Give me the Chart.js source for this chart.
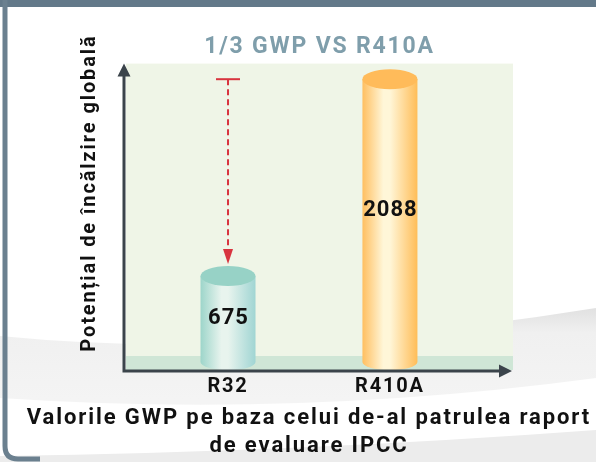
<!DOCTYPE html>
<html lang="ro">
<head>
    <meta charset="UTF-8">
    <title>GWP R32 vs R410A</title>
    <script src="https://cdn.jsdelivr.net/npm/chart.js"></script>
    <style>
        html, body { margin: 0; padding: 0; background: #fff; }
        #gwpChart { display: block; }
    </style>
</head>
<body>
    <canvas id="gwpChart" width="596" height="462"></canvas>

    <script>
        // chart data
        const categories = ['R32', 'R410A'];
        const gwpValues = [675, 2088];
        const yMax = 2200;
        const chartTitle = '1/3 GWP VS R410A';
        const yAxisLabel = 'Potențial de încălzire globală';
        const captionLines = ['Valorile GWP pe baza celui de-al patrulea raport', 'de evaluare IPCC'];

        // cylinder colours: [edge, highlight, other edge, cap]
        const cylinderColors = [
            ['#9dd5ca', '#e8f4ee', '#a0d5d3', '#97d2c6'],
            ['#ffbf60', '#fff6d8', '#ffbd58', '#ffbb5a']
        ];
        const FONT = 'Roboto, "Noto Sans", sans-serif';

        // white card, grey swoosh and slate frame
        const framePlugin = {
            id: 'frame',
            beforeDraw(chart) {
                const { ctx, width, height } = chart;
                // wide DIN-like lettering for title and tick labels
                ctx.letterSpacing = '1.8px';
                ctx.save();
                ctx.fillStyle = '#fff';
                ctx.fillRect(0, 0, width, height);

                const g = ctx.createLinearGradient(0, 310, 0, 400);
                g.addColorStop(0, '#e2e2e2');
                g.addColorStop(0.25, '#f0f0f0');
                g.addColorStop(1, '#f4f4f4');
                ctx.fillStyle = g;
                ctx.beginPath();
                ctx.moveTo(0, 336);
                ctx.quadraticCurveTo(260, 362, width, 308);
                ctx.lineTo(width, 378);
                ctx.quadraticCurveTo(300, 418, 0, 398);
                ctx.closePath();
                ctx.fill();

                ctx.fillStyle = '#ececec';
                ctx.beginPath();
                ctx.moveTo(0, 456);
                ctx.quadraticCurveTo(300, 452, width, 430);
                ctx.lineTo(width, height);
                ctx.lineTo(0, height);
                ctx.closePath();
                ctx.fill();

                ctx.fillStyle = '#637989';
                ctx.fillRect(0, 0, width, 7);
                ctx.strokeStyle = '#6b808f';
                ctx.lineWidth = 5;
                ctx.beginPath();
                ctx.moveTo(5, 0);
                ctx.lineTo(5, height - 16);
                ctx.quadraticCurveTo(5, height - 3, 18, height - 3);
                ctx.lineTo(40, height - 3);
                ctx.stroke();
                ctx.restore();
            }
        };

        // green panel with the floor band
        const panelPlugin = {
            id: 'panel',
            beforeDatasetsDraw(chart) {
                const { ctx, chartArea: a } = chart;
                ctx.save();
                ctx.fillStyle = '#eff5e7';
                ctx.fillRect(a.left, a.top, a.right - a.left, a.bottom - a.top);
                ctx.fillStyle = '#cfe6d6';
                ctx.fillRect(a.left, a.bottom - 14, a.right - a.left, 14);
                ctx.restore();
            }
        };

        // cylinders, value labels, dashed arrow, axis arrows
        const cylinderPlugin = {
            id: 'cylinders',
            afterDatasetsDraw(chart) {
                const { ctx, chartArea: a } = chart;
                const meta = chart.getDatasetMeta(0);
                const yScale = chart.scales.y;
                const ry = 10, rb = 8;
                ctx.save();

                meta.data.forEach((el, i) => {
                    const { x, y, base, width } = el.getProps(['x', 'y', 'base', 'width'], true);
                    const rx = width / 2;
                    const c = cylinderColors[i];

                    const grad = ctx.createLinearGradient(x - rx, 0, x + rx, 0);
                    grad.addColorStop(0, c[0]);
                    grad.addColorStop(0.38, c[1]);
                    grad.addColorStop(0.5, c[1]);
                    grad.addColorStop(1, c[2]);
                    ctx.fillStyle = grad;
                    ctx.beginPath();
                    ctx.moveTo(x - rx, y);
                    ctx.lineTo(x - rx, base - rb);
                    ctx.ellipse(x, base - rb, rx, rb, 0, Math.PI, 0, true);
                    ctx.lineTo(x + rx, y);
                    ctx.closePath();
                    ctx.fill();

                    ctx.fillStyle = c[3];
                    ctx.beginPath();
                    ctx.ellipse(x, y, rx, ry, 0, 0, Math.PI * 2);
                    ctx.fill();

                    ctx.fillStyle = '#111';
                    ctx.font = 'bold 22px ' + FONT;
                    ctx.letterSpacing = '1px';
                    ctx.textAlign = 'center';
                    ctx.textBaseline = 'middle';
                    ctx.fillText(String(gwpValues[i]), x + 0.5, base - 0.55 * (base - y));
                });

                // dashed arrow from R410A level down to R32 top
                const r32 = meta.data[0];
                const yFrom = yScale.getPixelForValue(gwpValues[1]);
                const yTo = r32.y - ry - 2;
                ctx.strokeStyle = '#d8343f';
                ctx.fillStyle = '#d8343f';
                ctx.lineWidth = 2;
                ctx.beginPath();
                ctx.moveTo(r32.x - 12, yFrom);
                ctx.lineTo(r32.x + 12, yFrom);
                ctx.stroke();
                ctx.setLineDash([6, 4]);
                ctx.beginPath();
                ctx.moveTo(r32.x, yFrom);
                ctx.lineTo(r32.x, yTo - 12);
                ctx.stroke();
                ctx.setLineDash([]);
                ctx.beginPath();
                ctx.moveTo(r32.x, yTo);
                ctx.lineTo(r32.x - 5, yTo - 15);
                ctx.lineTo(r32.x + 5, yTo - 15);
                ctx.closePath();
                ctx.fill();

                // axes with arrow heads
                ctx.strokeStyle = '#3b444b';
                ctx.fillStyle = '#3b444b';
                ctx.lineWidth = 3;
                ctx.beginPath();
                ctx.moveTo(a.left - 2, a.bottom + 2.5);
                ctx.lineTo(a.left - 2, a.top + 10);
                ctx.moveTo(a.left - 3.5, a.bottom + 1);
                ctx.lineTo(a.right - 10, a.bottom + 1);
                ctx.stroke();
                ctx.beginPath();
                ctx.moveTo(a.left - 2, a.top);
                ctx.lineTo(a.left - 8.5, a.top + 13);
                ctx.lineTo(a.left + 4.5, a.top + 13);
                ctx.closePath();
                ctx.moveTo(a.right - 1, a.bottom + 1);
                ctx.lineTo(a.right - 14, a.bottom - 5.5);
                ctx.lineTo(a.right - 14, a.bottom + 7.5);
                ctx.closePath();
                ctx.fill();
                ctx.restore();
            }
        };

        // rotated y label and caption below
        const textPlugin = {
            id: 'texts',
            afterDraw(chart) {
                const { ctx } = chart;
                ctx.save();
                ctx.fillStyle = '#111';
                ctx.textAlign = 'center';
                ctx.textBaseline = 'middle';
                ctx.letterSpacing = '1.9px';
                ctx.font = 'bold 20px ' + FONT;
                ctx.save();
                ctx.translate(90, 193);
                ctx.rotate(-Math.PI / 2);
                ctx.fillText(yAxisLabel, 0, 0);
                ctx.restore();
                ctx.font = 'bold 22px ' + FONT;
                captionLines.forEach((line, i) => ctx.fillText(line, 309, 418 + i * 28));
                ctx.restore();
            }
        };

        new Chart(document.getElementById('gwpChart'), {
            type: 'bar',
            data: {
                datasets: [{
                    data: gwpValues.map((v, i) => ({ x: i, y: v })),
                    backgroundColor: 'rgba(0,0,0,0)',
                    borderWidth: 0,
                    barThickness: 55
                }]
            },
            options: {
                responsive: false,
                animation: false,
                devicePixelRatio: 1,
                layout: { padding: { left: 126, right: 83, top: 0, bottom: 58 } },
                plugins: {
                    legend: { display: false },
                    tooltip: { enabled: false },
                    title: {
                        display: true,
                        text: chartTitle,
                        color: '#7f9eab',
                        font: { family: FONT, size: 23, weight: 'bold' },
                        padding: { top: 33, bottom: 3 }
                    }
                },
                scales: {
                    x: {
                        type: 'linear',
                        offset: false,
                        min: -0.63,
                        max: 1.76,
                        grid: { display: false, drawTicks: false },
                        border: { display: false },
                        afterBuildTicks: axis => { axis.ticks = categories.map((c, i) => ({ value: i })); },
                        ticks: {
                            color: '#111',
                            padding: 5,
                            font: { family: FONT, size: 20, weight: 'bold' },
                            callback: v => categories[v] ?? ''
                        }
                    },
                    y: { display: false, min: 0, max: yMax }
                }
            },
            plugins: [framePlugin, panelPlugin, cylinderPlugin, textPlugin]
        });
    </script>
</body>
</html>
